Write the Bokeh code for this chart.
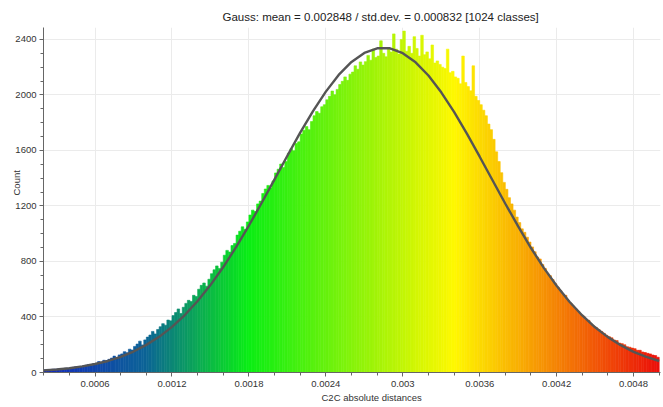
import numpy as np
from bokeh.plotting import figure
from bokeh.models import FixedTicker, CustomJSTickFormatter, Title
from bokeh.embed import file_html
from bokeh.resources import INLINE

title_text = "Gauss: mean = 0.002848 / std.dev. = 0.000832 [1024 classes]"
x_label = "C2C absolute distances"
y_label = "Count"

# histogram classes (resampled to 240 visible columns)
bin_start = 0.0002
bin_width = 0.00002
counts = [
    19, 22, 18, 23, 24, 25, 29, 26, 31, 30, 33, 37, 41, 36, 44, 47, 52, 58, 50, 63,
    66, 79, 72, 88, 83, 95, 104, 118, 107, 127, 134, 150, 143, 168, 162, 188, 205, 226, 199, 235,
    255, 270, 296, 278, 310, 330, 352, 341, 378, 372, 410, 432, 458, 425, 470, 498, 520, 512, 556, 548,
    600, 628, 645, 622, 672, 712, 740, 768, 750, 795, 845, 880, 868, 915, 930, 990, 1018, 1050, 1032, 1085,
    1135, 1170, 1160, 1215, 1235, 1290, 1322, 1348, 1330, 1380, 1438, 1465, 1502, 1478, 1520, 1580, 1612, 1598, 1650, 1662,
    1718, 1745, 1772, 1750, 1808, 1850, 1880, 1868, 1915, 1930, 1965, 1990, 2028, 2002, 2040, 2075, 2098, 2130, 2105, 2150,
    2165, 2210, 2185, 2238, 2215, 2240, 2285, 2250, 2330, 2270, 2280, 2390, 2300, 2275, 2340, 2310, 2440, 2330, 2295, 2400,
    2460, 2315, 2350, 2300, 2420, 2335, 2280, 2430, 2290, 2310, 2260, 2360, 2230, 2245, 2220, 2200, 2190, 2330, 2160, 2170,
    2130, 2120, 2080, 2280, 2090, 2060, 2030, 2210, 1990, 1960, 1930, 1890, 1850, 1790, 1750, 1680, 1590, 1520, 1440, 1370,
    1320, 1260, 1215, 1170, 1120, 1080, 1035, 1010, 975, 940, 905, 870, 832, 818, 778, 750, 712, 698, 670, 640,
    615, 590, 562, 556, 518, 500, 478, 458, 440, 418, 405, 380, 376, 348, 335, 322, 308, 296, 282, 268,
    258, 250, 234, 230, 212, 208, 200, 186, 182, 176, 172, 160, 160, 148, 144, 138, 134, 126, 122, 110,
]

# Gauss curve
gauss_x = [round(0.0002 + 0.0001 * i, 4) for i in range(49)]
gauss_y = [
    15, 22, 31, 44, 61, 83, 113, 151, 199, 257, 329, 414, 515, 630, 760, 903, 1059, 1223, 1392, 1562,
    1728, 1883, 2024, 2144, 2238, 2303, 2336, 2336, 2301, 2235, 2140, 2019, 1878, 1721, 1555, 1385, 1216, 1053, 897, 754,
    625, 510, 411, 326, 255, 197, 149, 112, 83,
]

x_ticks = [0.0006, 0.0012, 0.0018, 0.0024, 0.003, 0.0036, 0.0042, 0.0048]
x_minor = [round(0.0002 * i, 4) for i in range(1, 26)]
y_ticks = [0, 400, 800, 1200, 1600, 2000, 2400]
y_minor = list(range(0, 2500, 100))

n = len(counts)
lefts = np.array([bin_start + bin_width * i for i in range(n)])
rights = lefts + bin_width
centers = (lefts + rights) / 2
lo, hi = bin_start, bin_start + bin_width * n

# Blue > Green > Yellow > Red colour scale
anchors_t = [0.0, 1 / 6, 1 / 3, 2 / 3, 1.0]
anchors_c = np.array([[20, 40, 190], [12, 100, 150], [10, 238, 20], [255, 248, 0], [235, 15, 10]], dtype=float)
t = (centers - lo) / (hi - lo)
rgb = np.stack([np.interp(t, anchors_t, anchors_c[:, k]) for k in range(3)], axis=1)
colors = ["#%02x%02x%02x" % tuple(int(round(v)) for v in c) for c in rgb]

FONT = "Liberation Sans"

p = figure(width=663, height=407, output_backend="svg", toolbar_location=None,
           x_range=(0.000198, 0.00501), y_range=(0, 2486),
           min_border_left=43, min_border_right=3, min_border_top=27, min_border_bottom=35)
p.outline_line_color = None
p.background_fill_color = "white"
p.border_fill_color = "white"

p.quad(left=lefts, right=rights, top=counts, bottom=0,
       fill_color=colors, line_color=colors, line_width=0.6)
p.line(gauss_x, gauss_y, line_color="#555555", line_width=2.4)

# axes
p.xaxis.ticker = FixedTicker(ticks=x_ticks, minor_ticks=x_minor)
p.yaxis.ticker = FixedTicker(ticks=y_ticks, minor_ticks=y_minor)
p.xaxis.formatter = CustomJSTickFormatter(code="return parseFloat(tick.toFixed(4)).toString();")
for ax in (p.xaxis, p.yaxis):
    ax.axis_line_color = "#666666"
    ax.major_tick_line_color = "#666666"
    ax.minor_tick_line_color = "#666666"
    ax.major_tick_out = 4
    ax.major_tick_in = 0
    ax.minor_tick_out = 3
    ax.minor_tick_in = 0
    ax.major_label_text_font = FONT
    ax.major_label_text_font_size = "9.5px"
    ax.major_label_text_color = "#333333"
    ax.major_label_standoff = 4
p.yaxis.major_label_standoff = 3

p.xgrid.grid_line_color = "#ebebeb"
p.ygrid.grid_line_color = "#ebebeb"

# titles / axis names
p.title.text = title_text
p.title.align = "left"
p.title.offset = 179
p.title.text_font = FONT
p.title.text_font_size = "11.5px"
p.title.text_font_style = "normal"
p.title.text_color = "#222222"
p.title.standoff = 10

p.add_layout(Title(text=x_label, align="left", offset=278, vertical_align="top", standoff=4,
                   text_font=FONT, text_font_size="9.5px", text_font_style="normal",
                   text_color="#333333"), "below")
p.add_layout(Title(text=y_label, align="left", offset=177, vertical_align="bottom", standoff=-18,
                   text_font=FONT, text_font_size="9.5px", text_font_style="normal",
                   text_color="#333333"), "left")

open("out.html", "w").write(file_html(p, INLINE))
